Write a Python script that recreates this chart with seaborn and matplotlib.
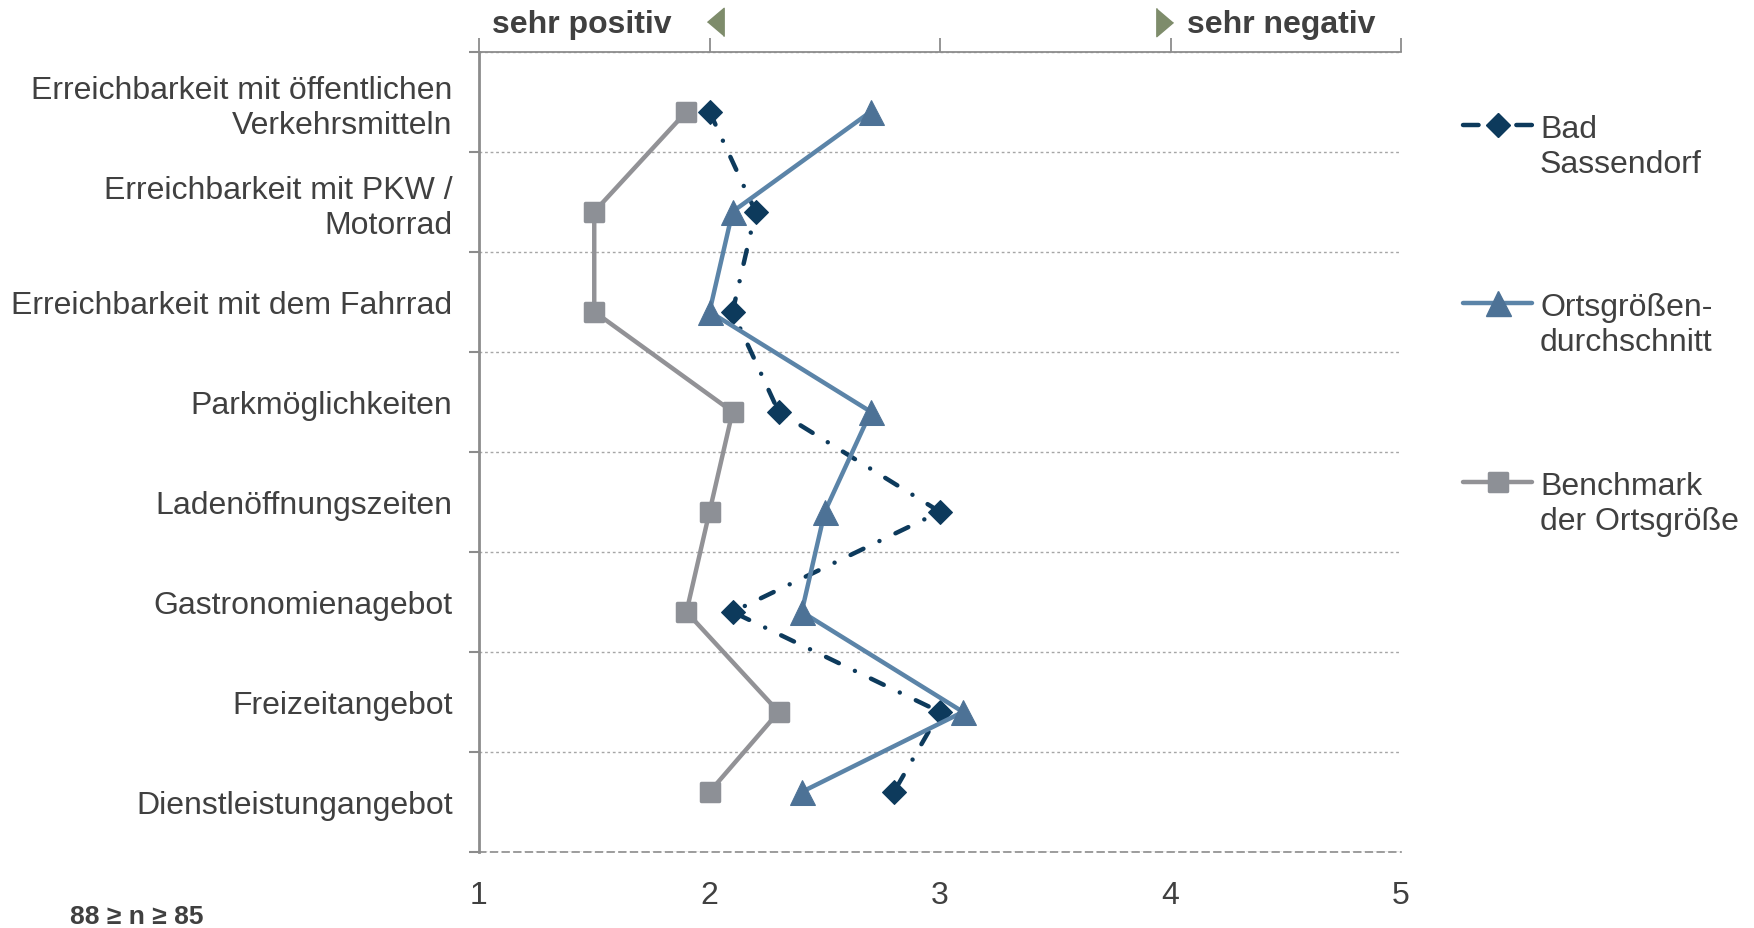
import matplotlib
matplotlib.use("Agg")
import matplotlib.pyplot as plt
import seaborn as sns
from matplotlib.lines import Line2D
from matplotlib.markers import MarkerStyle
from matplotlib.transforms import blended_transform_factory

categories = [
    "Erreichbarkeit mit öffentlichen\nVerkehrsmitteln",
    "Erreichbarkeit mit PKW /\nMotorrad",
    "Erreichbarkeit mit dem Fahrrad",
    "Parkmöglichkeiten",
    "Ladenöffnungszeiten",
    "Gastronomienagebot",
    "Freizeitangebot",
    "Dienstleistungangebot",
]
label_pos = [7.5, 6.5, 5.5, 4.5, 3.5, 2.5, 1.5, 0.5]
point_pos = [7.4, 6.4, 5.4, 4.4, 3.4, 2.4, 1.4, 0.6]

bad_sassendorf = [2.0, 2.2, 2.1, 2.3, 3.0, 2.1, 3.0, 2.8]
ortsgroesse = [2.7, 2.1, 2.0, 2.7, 2.5, 2.4, 3.1, 2.4]
benchmark = [1.9, 1.5, 1.5, 2.1, 2.0, 1.9, 2.3, 2.0]

series_names = ["Bad\nSassendorf", "Ortsgrößen-\ndurchschnitt", "Benchmark\nder Ortsgröße"]
x_ticks = [1, 2, 3, 4, 5]

TXT = "#404040"
AXC = "#8C8C8C"
NAVY = "#0D3A5C"
STEEL = "#5B84A8"
STEEL_M = "#4D7296"
GRAY = "#929296"
GRAY_M = "#8D9096"
ARROW = "#7E8C6B"
LW = 3.2
DASHDOT = (0, (3.2, 4, 0.01, 4))

sns.set_theme(style="white")
plt.rcParams["font.family"] = ["Liberation Sans", "DejaVu Sans"]

fig = plt.figure(figsize=(17.54, 9.29), dpi=100)
ax = fig.add_axes([479 / 1754, 1 - 853 / 929, 922 / 1754, 800.4 / 929])

line_styles = [
    dict(color=NAVY, marker="D", markersize=12, markerfacecolor=NAVY,
         markeredgecolor=NAVY, linestyle=DASHDOT),
    dict(color=STEEL, marker="^", markersize=18, markerfacecolor=STEEL_M,
         markeredgecolor=STEEL_M, linestyle="-"),
    dict(color=GRAY, marker=MarkerStyle("s", joinstyle="round"), markersize=12.5,
         markerfacecolor=GRAY_M, markeredgecolor=GRAY_M, markeredgewidth=2.5,
         linestyle="-"),
]
for vals, st in zip([bad_sassendorf, ortsgroesse, benchmark], line_styles):
    sns.lineplot(x=vals, y=point_pos, sort=False, estimator=None, lw=LW,
                 legend=False, ax=ax, clip_on=False, dash_capstyle="round", **st)

ax.set_xlim(1, 5)
ax.set_ylim(0, 8)

# y axis: category labels at band centres, separator ticks at band edges
ax.set_yticks(label_pos)
ax.set_yticklabels(categories, fontsize=23, color=TXT, linespacing=1.22)
ax.set_yticks(range(0, 9), minor=True)
ax.tick_params(axis="y", which="major", length=0, pad=19)
ax.tick_params(axis="y", which="minor", left=True, length=7, width=1.5,
               color=AXC, direction="out")
ax.grid(False)
ax.grid(True, which="minor", axis="y", color="#A6A6A6", linestyle=(0, (2, 2)), lw=1)

# x axis: labels at bottom, ticks on top
ax.set_xticks(x_ticks)
ax.set_xticklabels([str(t) for t in x_ticks], fontsize=23, color=TXT)
ax.tick_params(axis="x", bottom=False, top=True, labelbottom=True, labeltop=False,
               direction="out", length=10, width=1.3, color=AXC, pad=10.5)

for side in ["left", "top", "bottom"]:
    ax.spines[side].set_visible(True)
    ax.spines[side].set_color(AXC)
ax.spines["left"].set_linewidth(2)
ax.spines["top"].set_linewidth(1.3)
ax.spines["bottom"].set_linewidth(1.2)
ax.spines["bottom"].set_linestyle((0, (4, 3)))
ax.spines["right"].set_visible(False)

# header
tr = blended_transform_factory(ax.transData, ax.transAxes)
ax.text(1.835, 1.034, "sehr positiv", transform=tr, ha="right", va="center",
        fontsize=23, fontweight="bold", color=TXT)
ax.text(4.07, 1.034, "sehr negativ", transform=tr, ha="left", va="center",
        fontsize=23, fontweight="bold", color=TXT)
ax.plot([1.99], [1.037], transform=tr, marker=[(0, 0), (1, 0.85), (1, -0.85)],
        markersize=24, color=ARROW, clip_on=False)
ax.plot([4.01], [1.037], transform=tr, marker=[(-1, 0.85), (-1, -0.85), (0, 0)],
        markersize=24, color=ARROW, clip_on=False)

# legend, drawn by hand so the handle sits on the first text line
leg_y = [126, 304, 483]
for name, st, y in zip(series_names, line_styles, leg_y):
    yf = 1 - y / 929
    xs = [1463 / 1754, 1497.5 / 1754, 1532 / 1754]
    kw = dict(st)
    ls = kw.pop("linestyle")
    if name.startswith("Bad"):
        ls = (0, (3.5, 8.5))
    fig.add_artist(Line2D(xs, [yf] * 3, lw=LW, linestyle=ls, markevery=[1],
                          solid_capstyle="round", dash_capstyle="round", **kw))
    fig.text(1540 / 1754, yf + 0.012, name, fontsize=23, color=TXT,
             ha="left", va="top", linespacing=1.22)

fig.text(70 / 1754, 1 - 917 / 929, "88 ≥ n ≥ 85", fontsize=19,
         fontweight="bold", color=TXT, ha="left", va="center")

fig.savefig("out.png", dpi=100)
